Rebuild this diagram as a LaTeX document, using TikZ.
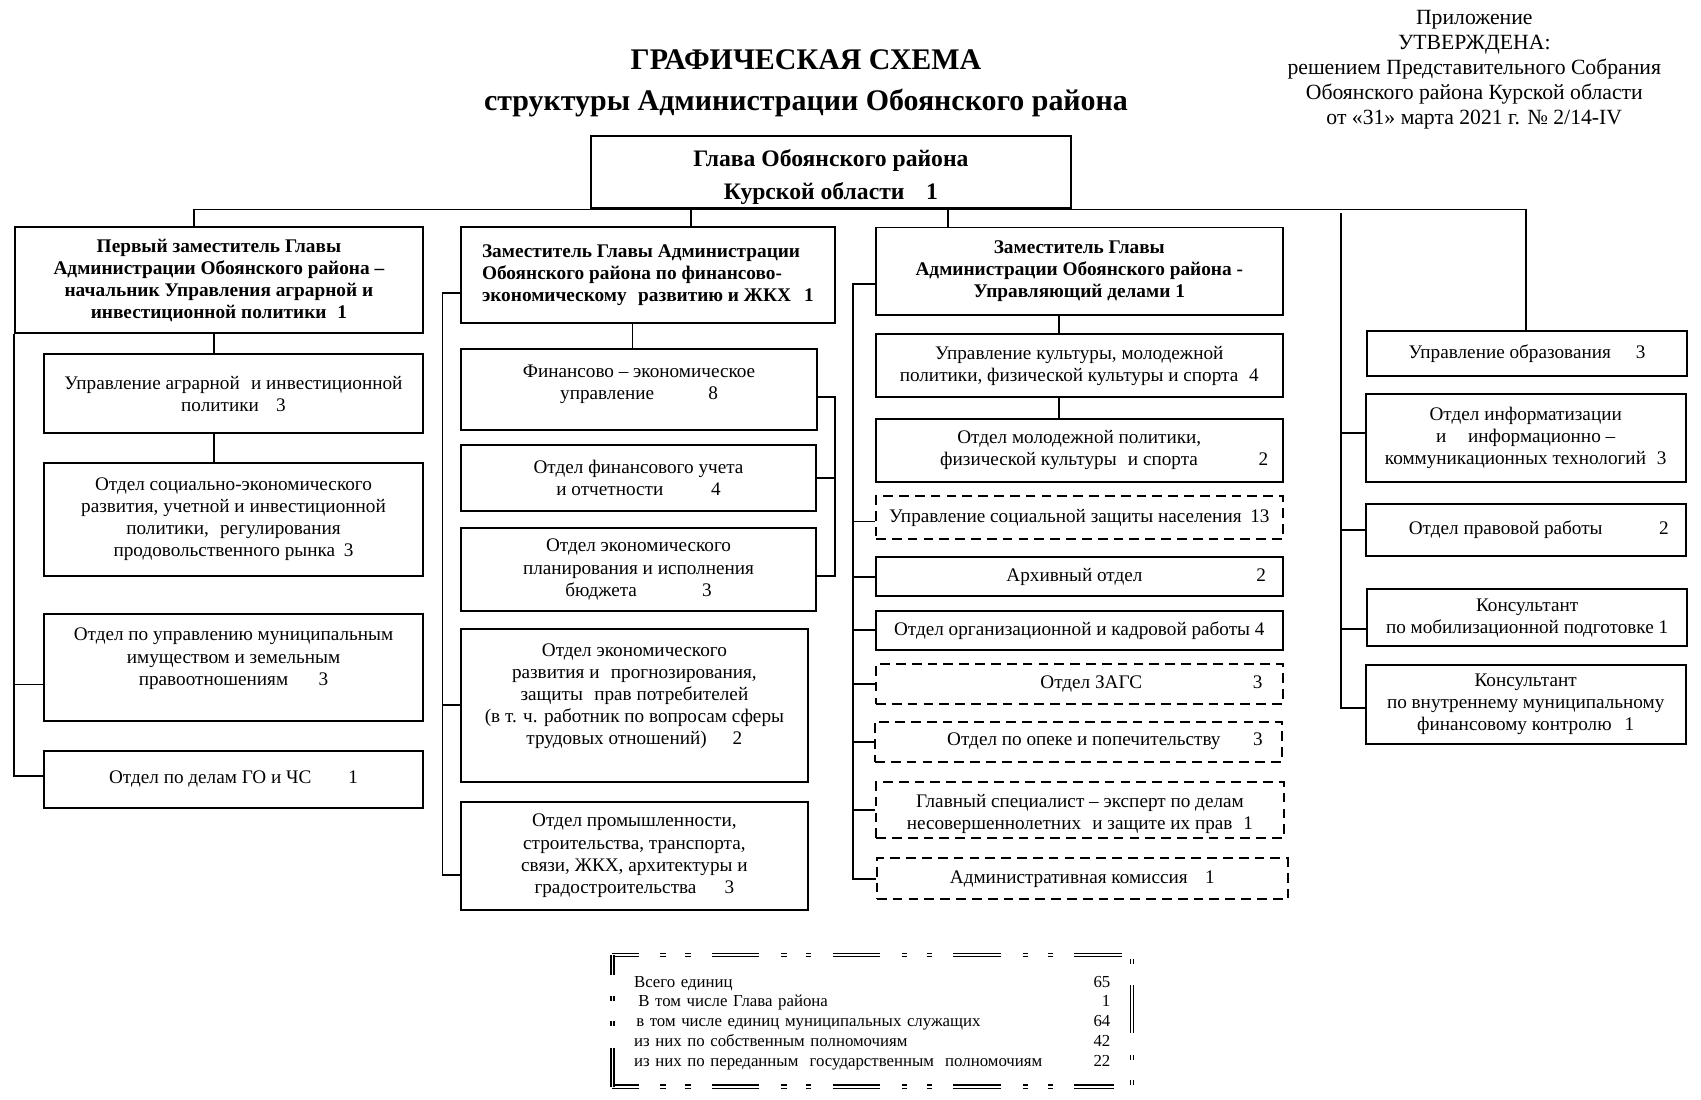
\documentclass[tikz,border=0pt]{standalone}
\usepackage{fontspec}
\setmainfont{Liberation Serif}
\newcommand\fsn{\fontsize{8.85}{10.2}\selectfont}
\newcommand\fsb{\fontsize{8.9}{10.2}\selectfont\bfseries}
\newcommand\boxat[7]{\node[#2,minimum width={(#5-#3)*0.5pt},minimum height={(#6-#4)*0.5pt}] (#1) at ({(#3+#5)/2},{(#4+#6)/2}) {#7};}
\tikzset{
  ubox/.style={draw, line width=0.9pt, inner sep=0pt, align=center, font=\fsn},
  udash/.style={ubox, dash pattern=on 4.5pt off 2.8pt},
  uhead/.style={ubox, font=\fsb},
  link/.style={line width=0.8pt},
  sumline/.style={double, double distance=0.9pt, line width=0.6pt, dash pattern=on 22pt off 10pt on 2.5pt off 9pt on 2.5pt off 9.7pt},
}
\begin{document}
\begin{tikzpicture}[x=0.5pt,y=-0.5pt]
\useasboundingbox (0,0) rectangle (1568,1013.1);

% titles
\node[align=center, font=\fontsize{13.8}{19}\selectfont\bfseries] (title) at (743,77) {ГРАФИЧЕСКАЯ СХЕМА\\структуры Администрации Обоянского района};
\node[align=center, font=\fontsize{10}{11.5}\selectfont] (appr) at (1359,64.5) {Приложение\\УТВЕРЖДЕНА:\\решением Представительного Собрания\\Обоянского района Курской области\\от «31» марта 2021 г. № 2/14-IV};

% head
\boxat{glava}{ubox, font=\fontsize{10.9}{15}\selectfont\bfseries}{545}{125}{987}{192}{\rule{0pt}{12.5pt}Глава Обоянского района\\Курской области\hspace{10pt}1}

% column 1
\boxat{B1}{uhead}{13.6}{209.6}{390}{307.3}{Первый заместитель Главы\\Администрации Обоянского района –\\начальник Управления аграрной и\\инвестиционной политики\hspace{5pt}1}
\boxat{agr}{ubox}{40.5}{326.6}{390}{399.4}{Управление аграрной\hspace{3pt} и инвестиционной\\политики\hspace{8pt}3}
\boxat{soc}{ubox}{40.5}{426.5}{390}{531}{Отдел социально-экономического\\развития, учетной и инвестиционной\\политики,\hspace{3pt} регулирования\\продовольственного рынка\hspace{4pt}3}
\boxat{imu}{ubox}{40.5}{566}{390}{665}{Отдел по управлению муниципальным\\имуществом и земельным\\правоотношениям\hspace{14pt}3\\\mbox{}}
\boxat{go}{ubox}{40.5}{692}{390}{744.5}{Отдел по делам ГО и ЧС\hspace{17pt}1}

% column 2
\boxat{B2}{uhead, align=left}{424.8}{209.6}{769.6}{297.5}{Заместитель Главы Администрации\\Обоянского района по финансово-\\экономическому\hspace{3pt} развитию и ЖКХ\hspace{6pt}1}
\boxat{fin}{ubox}{424.8}{321.7}{753.4}{396.4}{\rule{0pt}{9pt}Финансово – экономическое\\управление\hspace{25pt}8\\\mbox{}}
\boxat{fu}{ubox}{424.8}{410.2}{752.4}{470.7}{Отдел финансового учета\\и отчетности\hspace{22pt}4}
\boxat{ep}{ubox}{424.8}{487}{752.4}{563}{Отдел экономического\\планирования и исполнения\\бюджета\hspace{30pt}3}
\boxat{ekr}{ubox}{424.8}{579.8}{744.8}{720.5}{Отдел экономического\\развития и\hspace{3pt} прогнозирования,\\защиты\hspace{3pt} прав потребителей\\(в т. ч. работник по вопросам сферы\\трудовых отношений)\hspace{12pt}2\\\mbox{}}
\boxat{prom}{ubox}{424.8}{739}{744.8}{838.8}{Отдел промышленности,\\строительства, транспорта,\\связи, ЖКХ, архитектуры и\\градостроительства\hspace{13pt}3}

% column 3
\boxat{B3}{uhead}{807.5}{209.7}{1182.3}{290.4}{Заместитель Главы\\Администрации Обоянского района -\\Управляющий делами 1}
\boxat{kult}{ubox}{807.5}{308}{1182.3}{366}{Управление культуры, молодежной\\политики, физической культуры и спорта\hspace{5pt}4}
\boxat{mol}{ubox}{807.5}{385.8}{1182.3}{444.3}{Отдел молодежной политики,\\\hspace*{23pt}физической культуры\hspace{3pt} и спорта\hspace{28pt}2}
\boxat{szn}{udash}{807.5}{457.2}{1182.3}{497}{Управление социальной защиты населения\hspace{4pt}13}
\boxat{arh}{ubox}{807.5}{513.3}{1182.3}{549.8}{\hspace*{52.5pt}Архивный отдел\hspace{52.5pt}2}
\boxat{org}{ubox}{807.5}{563}{1182.3}{598.8}{Отдел организационной и кадровой работы 4}
\boxat{zags}{udash}{807.5}{612}{1182.3}{649}{\hspace*{66.5pt}Отдел ЗАГС\hspace{51pt}3}
\boxat{opeka}{udash}{806.6}{665.2}{1181.5}{702.1}{\hspace*{24.5pt}Отдел по опеке и попечительству\hspace{15pt}3}
\boxat{glav}{udash}{807.6}{720.5}{1183.3}{772.8}{\rule{0pt}{10pt}Главный специалист – эксперт по делам\\несовершеннолетних\hspace{3pt} и защите их прав\hspace{5pt}1}
\boxat{adm}{udash}{808.3}{791.2}{1187}{829}{Административная комиссия\hspace{8pt}1}

% column 4
\boxat{obr}{ubox}{1259.8}{305}{1555.4}{347}{Управление образования\hspace{11.5pt}3}
\boxat{inf}{ubox}{1258.8}{363.5}{1554}{444.4}{Отдел информатизации\\и\hspace{10pt}информационно –\\коммуникационных технологий\hspace{5pt}3}
\boxat{prav}{ubox}{1258.8}{464.2}{1554}{512.5}{\hspace*{12pt}Отдел правовой работы\hspace{26pt}2}
\boxat{km}{ubox}{1260}{543.2}{1555.4}{595.5}{Консультант\\по мобилизационной подготовке 1}
\boxat{kv}{ubox}{1258.8}{613}{1554}{686}{Консультант\\по внутреннему муниципальному\\финансовому контролю\hspace{6pt}1}

% summary
\node[inner sep=0pt, minimum width=239.5pt, minimum height=60.7pt, text width=219.5pt, align=left, font=\fontsize{7.75}{9.15}\selectfont] (sum) at (804,943) {Всего единиц\hfill 65\\
\hspace*{2pt}В том числе Глава района\hfill 1\hspace*{2.2pt}\\
\hspace*{1pt}в том числе единиц муниципальных служащих\hfill 64\hspace*{1.2pt}\\
из них по собственным полномочиям\hfill 42\hspace*{2pt}\\
из них по переданным\ \ государственным\ \ полномочиям\hfill 22\hspace*{2.5pt}};
\path (804,941) coordinate (sumc);
\draw[sumline, dash phase=10pt] (564.6,880.3) coordinate (snw) -- (1043.5,880.3) coordinate (sne);
\draw[sumline, dash phase=10pt] (564.6,1001.7) coordinate (ssw) -- (1027,1001.7) coordinate (sse);
\draw[sumline, dash phase=4pt] (ssw) -- (snw);
\draw[sumline, dash phase=41.7pt] (sne) -- (sne |- ssw);

% connectors: bus
\coordinate (busL) at (179,193);
\coordinate (busR) at (1407,193);
\coordinate (d2) at (637,193);
\coordinate (d3) at (873.6,193);
\draw[link] (busL) -- (busR);
\draw[link] (busL) -- (busL |- B1.north);
\draw[link] (d2) -- (d2 |- B2.north);
\draw[link] (d3) -- (d3 |- B3.north);
\draw[link] (busR) -- (busR |- obr.north);

% column 1 links
\coordinate (c1) at (197,0);
\draw[link] (c1 |- B1.south) -- (c1 |- agr.north);
\draw[link] (c1 |- agr.south) -- (c1 |- soc.north);
\draw[link] (B1.south west) |- ([yshift=1.5pt]go.west);
\path ([yshift=-7.7pt]imu.west) coordinate (imuB);
\draw[link] (imuB) -- (imuB -| B1.west);

% column 2 links
\coordinate (c2) at (583,0);
\coordinate (sp2) at (408,0);
\coordinate (br2) at (770,0);
\draw[link] (c2 |- B2.south) -- (c2 |- fin.north);
\path ([yshift=-8.25pt]B2.west) coordinate (b2l);
\path ([yshift=-8.8pt]prom.west) coordinate (proml);
\draw[link] (b2l) -- (b2l -| sp2) -- (proml -| sp2) -- (proml);
\draw[link] (ekr.west) -- (ekr.west -| sp2);
\path ([yshift=-3.5pt]fin.east) coordinate (finr);
\path ([yshift=-3pt]ep.east) coordinate (epr);
\draw[link] (finr) -- (finr -| br2) -- (epr -| br2) -- (epr);
\draw[link] (fu.east) -- (fu.east -| br2);

% column 3 links
\coordinate (c3) at (976,0);
\coordinate (sp3) at (786.6,0);
\draw[link] (c3 |- B3.south) -- (c3 |- kult.north);
\draw[link] (c3 |- kult.south) -- (c3 |- mol.north);
\path ([yshift=-5.7pt]B3.west) coordinate (b3l);
\draw[link] (b3l) -- (b3l -| sp3) -- (adm.west -| sp3) -- (adm.west);
\draw[link] ([yshift=-1.8pt]szn.west) -- ([yshift=-1.8pt]szn.west -| sp3);
\draw[link] (arh.west) -- (arh.west -| sp3);
\draw[link] (org.west) -- (org.west -| sp3);
\draw[link] (zags.west) -- (zags.west -| sp3);
\draw[link] (opeka.west) -- (opeka.west -| sp3);
\draw[link] (glav.west) -- (glav.west -| sp3);

% column 4 links
\coordinate (sp4) at (1236,196.4);
\draw[link] (sp4) |- ([yshift=-1.5pt]kv.west);
\draw[link] ([yshift=2.5pt]inf.west) -- ([yshift=2.5pt]inf.west -| sp4);
\draw[link] (prav.west) -- (prav.west -| sp4);
\draw[link] ([yshift=-5.2pt]km.west) -- ([yshift=-5.2pt]km.west -| sp4);
\end{tikzpicture}
\end{document}
